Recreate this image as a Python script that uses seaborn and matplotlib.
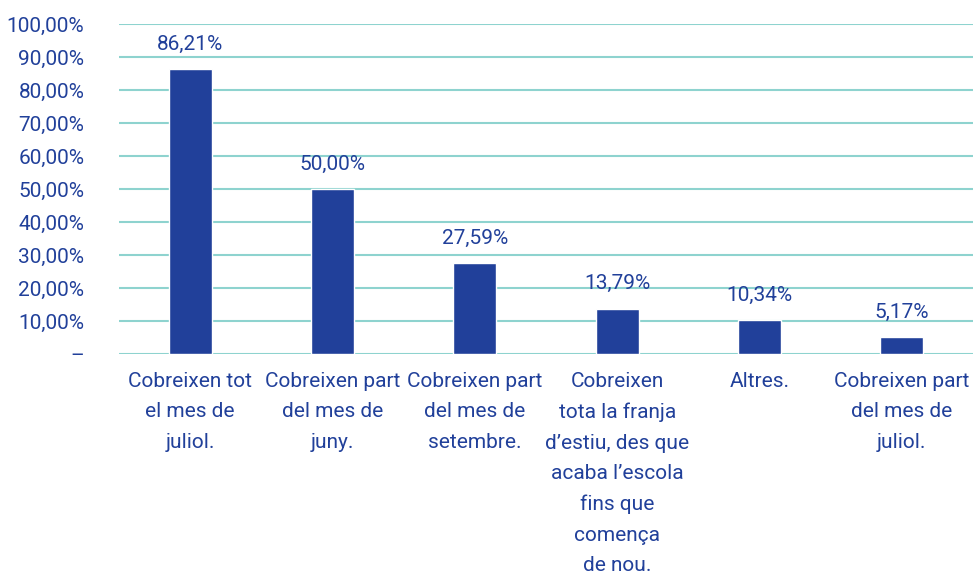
import matplotlib
matplotlib.use("Agg")
import matplotlib.pyplot as plt
import seaborn as sns
import pandas as pd

categories = [
    "Cobreixen tot\nel mes de\njuliol.",
    "Cobreixen part\ndel mes de\njuny.",
    "Cobreixen part\ndel mes de\nsetembre.",
    "Cobreixen\ntota la franja\nd\u2019estiu, des que\nacaba l\u2019escola\nfins que\ncomen\u00e7a\nde nou.",
    "Altres.",
    "Cobreixen part\ndel mes de\njuliol.",
]
values = [86.21, 50.00, 27.59, 13.79, 10.34, 5.17]
value_labels = ["86,21%", "50,00%", "27,59%", "13,79%", "10,34%", "5,17%"]
yticks = [0, 10, 20, 30, 40, 50, 60, 70, 80, 90, 100]
ytick_labels = ["\u2013", "10,00%", "20,00%", "30,00%", "40,00%", "50,00%",
                "60,00%", "70,00%", "80,00%", "90,00%", "100,00%"]

sns.set_theme(style="white")
plt.rcParams["font.family"] = ["Roboto", "DejaVu Sans"]

BLUE = "#21409A"
GRID = "#8ED3CF"

df = pd.DataFrame({"cat": categories, "val": values})

fig = plt.figure(figsize=(9.73, 5.78), dpi=100)
ax = fig.add_axes([0.1223, 0.3875, 0.8777, 0.571])
sns.barplot(data=df, x="cat", y="val", color=BLUE, width=0.3, saturation=1, ax=ax, zorder=3)
ax.set_ylim(0, 100)
ax.set_xlim(-0.5, 5.5)
ax.set_yticks(yticks)
ax.set_yticklabels(ytick_labels)
ax.yaxis.grid(True, color=GRID, linewidth=1.5, zorder=0)
ax.set_axisbelow(True)
for s in ax.spines.values():
    s.set_visible(False)
ax.set_xlabel("")
ax.set_ylabel("")
ax.tick_params(axis="y", length=0, pad=25, labelsize=15, labelcolor=BLUE)
ax.tick_params(axis="x", length=0, pad=13, labelsize=15, labelcolor=BLUE)
for lab in ax.get_xticklabels():
    lab.set_linespacing(1.76)
    lab.set_verticalalignment("top")
for lab in ax.get_yticklabels():
    lab.set_horizontalalignment("right")

for i, (v, t) in enumerate(zip(values, value_labels)):
    ax.annotate(t, (i, v), xytext=(0, 11), textcoords="offset points",
                ha="center", va="bottom", fontsize=15, color=BLUE, clip_on=False)

fig.savefig("out.png", dpi=100)
